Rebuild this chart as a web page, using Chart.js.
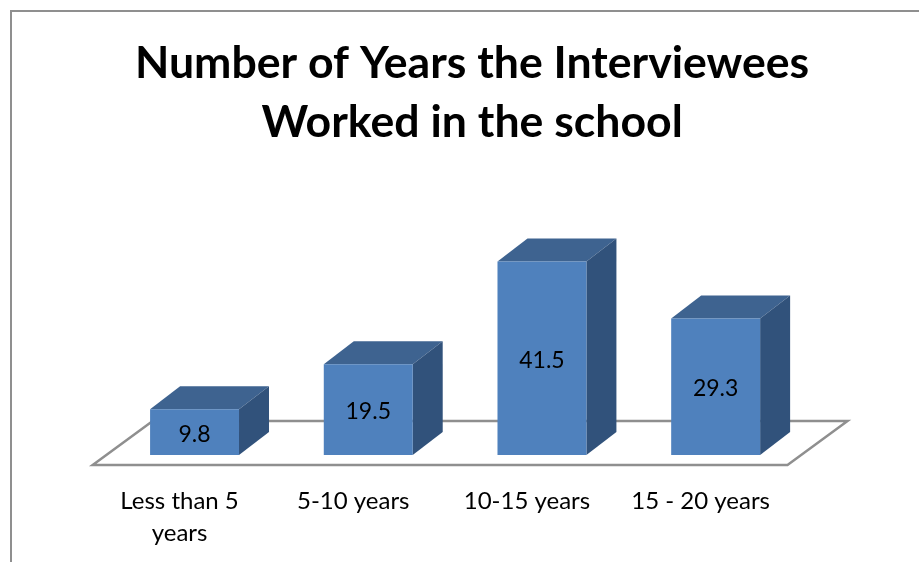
<!DOCTYPE html>
<html>
<head>
<meta charset="utf-8">
<script src="https://cdn.jsdelivr.net/npm/chart.js@4/dist/chart.umd.min.js"></script>
<style>
html,body{margin:0;padding:0;background:#fff;overflow:hidden}
#w{width:919px;height:562px;position:relative}
</style>
</head>
<body>
<div id="w"><canvas id="c" width="919" height="562"></canvas></div>
<script>
const categories = [["Less than 5","years"],"5-10 years","10-15 years","15 - 20 years"];
const values = [9.8,19.5,41.5,29.3];
const titleLines = ["Number of Years the Interviewees","Worked in the school"];

const FONT = "Lato, Carlito, sans-serif";
const DX = 30, DY = -23;
const FRONT = "#4f81bd", TOP = "#3e6390", SIDE = "#31527b", LINE = "#8f8f8f";

const frameAndBoxes = {
  id: "frameAndBoxes",
  afterLayout(chart){
    const t = chart.titleBlock;
    t.left += 17; t.right += 17;
  },
  beforeDatasetsDraw(chart){
    const c = chart.ctx, a = chart.chartArea, base = chart.scales.y.getPixelForValue(0);
    c.save();
    // outer frame
    c.strokeStyle = LINE; c.lineWidth = 2;
    c.beginPath(); c.moveTo(11,562); c.lineTo(11,11); c.lineTo(919,11); c.stroke();
    // floor
    const fl = a.left - 15, fr = a.right - 15, fy = base + 10;
    c.lineWidth = 2.5;
    c.beginPath();
    c.moveTo(fl,fy); c.lineTo(fr,fy); c.lineTo(fr+60,fy-44); c.lineTo(fl+60,fy-44); c.closePath();
    c.stroke();
    // depth faces
    chart.getDatasetMeta(0).data.forEach(b=>{
      const l = b.x - b.width/2, r = b.x + b.width/2, y = b.y, bb = b.base;
      c.fillStyle = TOP;
      c.beginPath(); c.moveTo(l,y); c.lineTo(l+DX,y+DY); c.lineTo(r+DX,y+DY); c.lineTo(r,y); c.closePath(); c.fill();
      c.fillStyle = SIDE;
      c.beginPath(); c.moveTo(r,y); c.lineTo(r+DX,y+DY); c.lineTo(r+DX,bb+DY); c.lineTo(r,bb); c.closePath(); c.fill();
    });
    c.restore();
  },
  afterDatasetsDraw(chart){
    const c = chart.ctx;
    c.save();
    c.fillStyle = "#000"; c.font = "23px " + FONT;
    c.textAlign = "center"; c.textBaseline = "middle";
    chart.getDatasetMeta(0).data.forEach((b,i)=>{
      c.fillText(String(values[i]), b.x, (b.y + b.base)/2 + 2);
    });
    c.restore();
  }
};

new Chart(document.getElementById("c"), {
  type: "bar",
  data: { labels: categories, datasets: [{ data: values, backgroundColor: FRONT, borderWidth: 0,
    categoryPercentage: 1, barPercentage: 0.512 }] },
  plugins: [frameAndBoxes],
  options: {
    responsive: false, animation: false,
    layout: { padding: { left: 107.7, right: 116.5, top: 34, bottom: 0 } },
    plugins: {
      legend: { display: false }, tooltip: { enabled: false },
      title: { display: true, text: titleLines, color: "#000",
        font: { family: FONT, size: 44.6, weight: "bold", lineHeight: 59/44.6 },
        padding: { top: 0, bottom: 70 } }
    },
    scales: {
      x: { grid: { display: false }, border: { display: false },
        ticks: { color: "#000", font: { family: FONT, size: 24, lineHeight: 32/24 }, padding: 22, labelOffset: -15, maxRotation: 0, autoSkip: false },
        afterFit(s){ s.height = 107; } },
      y: { display: false, min: 0, max: 50 }
    }
  }
});
</script>
</body>
</html>
